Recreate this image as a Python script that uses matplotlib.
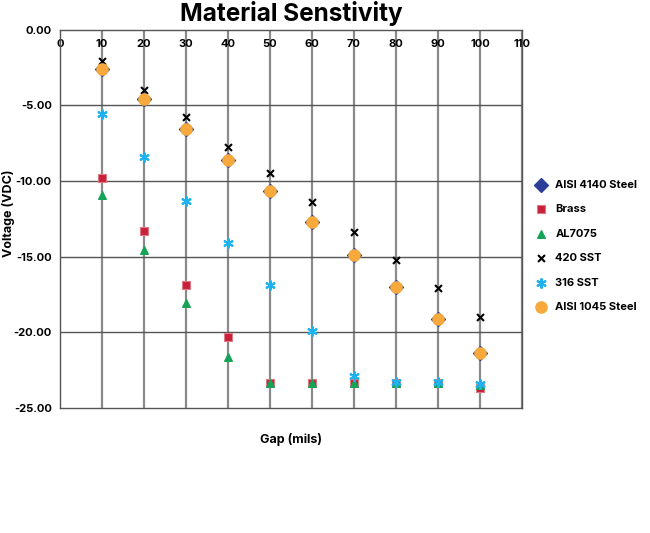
import matplotlib
matplotlib.use("Agg")
import matplotlib.pyplot as plt

plt.rcParams['font.family'] = ['Inter', 'DejaVu Sans']
plt.rcParams['font.weight'] = 'bold'

gap = [10, 20, 30, 40, 50, 60, 70, 80, 90, 100]
aisi4140 = [-2.58, -4.56, -6.55, -8.6, -10.7, -12.7, -14.9, -17.0, -19.1, -21.4]
brass = [-9.8, -13.3, -16.9, -20.3, -23.35, -23.35, -23.35, -23.35, -23.35, -23.7]
al7075 = [-10.9, -14.55, -18.05, -21.6, -23.35, -23.35, -23.35, -23.35, -23.35, -23.5]
sst420 = [-2.1, -3.97, -5.8, -7.74, -9.5, -11.4, -13.4, -15.2, -17.1, -19.0]
sst316 = [-5.6, -8.4, -11.3, -14.1, -16.9, -19.9, -22.9, -23.3, -23.3, -23.4]
aisi1045 = [-2.58, -4.56, -6.55, -8.6, -10.7, -12.7, -14.9, -17.0, -19.1, -21.4]

x_ticks = list(range(0, 111, 10))
y_ticks = [0, -5, -10, -15, -20, -25]
y_tick_labels = ["0.00", "-5.00", "-10.00", "-15.00", "-20.00", "-25.00"]

fig = plt.figure(figsize=(6.5, 5.33), dpi=100)
ax = fig.add_axes([60/650, 1-408/533, (522-60)/650, (408-29.5)/533])

ax.set_xlim(0, 110)
ax.set_ylim(-25, 0)
ax.set_xticks(x_ticks)
ax.set_yticks(y_ticks)
ax.set_yticklabels(y_tick_labels)
ax.xaxis.set_ticks_position('top')
ax.tick_params(axis='x', length=0, pad=-14, labelsize=8)
ax.tick_params(axis='y', length=0, pad=6, labelsize=8)
for lab in ax.get_xticklabels() + ax.get_yticklabels():
    lab.set_fontweight('bold')

for xv in x_ticks[1:]:
    ax.axvline(xv, color='#8a8a8a', lw=1.6, zorder=1)
for yv in y_ticks[1:-1]:
    ax.axhline(yv, color='#555555', lw=1.0, zorder=1)
for s in ax.spines.values():
    s.set_color('#555555')
    s.set_linewidth(1.0)

ax.scatter(gap, aisi4140, marker='D', s=50, color='#2B3F98', zorder=3, label='AISI 4140 Steel')
ax.scatter(gap, brass, marker='s', s=32, color='#C8203A', edgecolor='#E07A85', linewidth=0.8, zorder=3, label='Brass')
ax.scatter(gap, al7075, marker='^', s=30, color='#16A357', zorder=4, label='AL7075')
ax.scatter(gap, sst420, marker='x', s=25, color='black', linewidth=1.5, zorder=4, label='420 SST')
ax.scatter(gap, sst316, marker=(6, 2, 0), s=40, color='#1FB3EE', linewidth=1.5, zorder=5, label='316 SST')
ax.scatter(gap, aisi1045, marker='o', s=65, color='#F8A93C', zorder=4, label='AISI 1045 Steel')

leg = ax.legend(loc='center left', bbox_to_anchor=(0.995, 0.428), frameon=False,
                handletextpad=0.3, labelspacing=1.3, scatterpoints=1,
                prop={'weight': 'bold', 'size': 8})

fig.text(291/650, 1-13/533, 'Material Senstivity', ha='center', va='center',
         fontsize=17.5, fontweight='bold')
ax.set_xlabel('Gap (mils)', fontsize=9, fontweight='bold')
ax.xaxis.set_label_position('bottom')
ax.xaxis.labelpad = 18
ax.set_ylabel('Voltage (VDC)', fontsize=9, fontweight='bold')
ax.yaxis.set_label_coords(15/650, 1-213/533, transform=fig.transFigure)

fig.savefig('out.png', dpi=100)
